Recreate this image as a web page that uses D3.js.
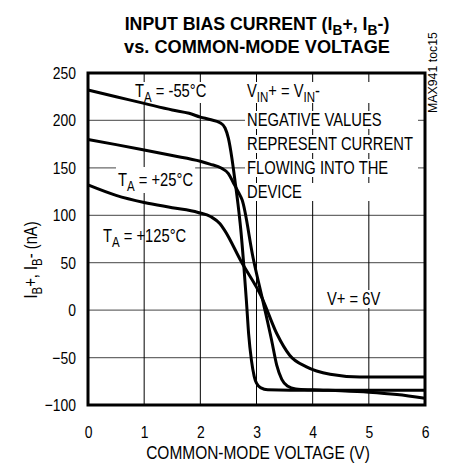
<!DOCTYPE html>
<html>
<head>
<meta charset="utf-8">
<script src="https://cdn.jsdelivr.net/npm/d3@7"></script>
<style>
  html, body { margin: 0; padding: 0; background: #fff; }
  svg { display: block; font-family: "Liberation Sans", Arial, sans-serif; }
</style>
</head>
<body>
<svg id="chart" width="451" height="470"></svg>
<script>
// ---------- data ----------
const xTicks = [0, 1, 2, 3, 4, 5, 6];
const yTicks = [-100, -50, 0, 50, 100, 150, 200, 250];

// T_A = -55°C  : [V, nA]
const seriesM55V = [0, 0.5, 1.0, 1.5, 1.8, 2.0, 2.17, 2.35, 2.44, 2.50, 2.56, 2.62, 2.67, 2.72, 2.77, 2.82, 2.86, 2.91, 2.96, 3.0, 3.08, 3.2, 3.6, 4.0, 5.0, 6.0];
const seriesM55I = [232, 225, 218, 211, 207.5, 203.5, 201, 197.6, 192, 181, 161, 135, 112, 85, 50, 10, -25, -53, -70, -77, -82, -84, -84.5, -84.5, -84.5, -84.5];

// T_A = +25°C
const seriesP25V = [0, 0.5, 1.0, 1.5, 2.0, 2.17, 2.38, 2.50, 2.59, 2.68, 2.745, 2.94, 3.12, 3.27, 3.36, 3.45, 3.55, 3.7, 4.0, 4.5, 5.0, 5.5, 6.0];
const seriesP25I = [180, 174.5, 168.8, 163, 157, 154, 149.5, 144, 134, 124, 116, 55, 8, -32, -58, -73, -80, -83, -84, -85, -86.5, -89, -93];

// T_A = +125°C
const seriesP125V = [0, 0.5, 1.0, 1.5, 1.96, 2.19, 2.35, 2.43, 2.73, 3.09, 3.36, 3.59, 3.89, 4.31, 4.84, 5.5, 6.0];
const seriesP125I = [132, 121, 113.5, 108, 103, 98.4, 91, 84.4, 51, 14, -24.6, -47.5, -59.8, -67.5, -70.4, -70.5, -70.5];

// ---------- layout ----------
const svg = d3.select("#chart");
const X0 = 88, X1 = 425, Y0 = 73, Y1 = 405;
const SX = 0.82; // horizontal squeeze to emulate a narrow face

const x = d3.scaleLinear().domain([0, 6]).range([X0, X1]);
const y = d3.scaleLinear().domain([-100, 250]).range([Y1, Y0]);

// grid
const grid = svg.append("g");
grid.selectAll("line.h").data(yTicks.filter(v => v > -100 && v < 250)).join("line")
  .attr("x1", X0).attr("x2", X1)
  .attr("y1", d => y(d)).attr("y2", d => y(d))
  .attr("stroke", "#6a6a6a").attr("stroke-width", 1.2);
grid.selectAll("line.v").data(xTicks.filter(v => v > 0 && v < 6)).join("line")
  .attr("y1", Y0).attr("y2", Y1)
  .attr("x1", d => x(d)).attr("x2", d => x(d))
  .attr("stroke", "#000").attr("stroke-width", 1);

// text helper: parts = [[str, isSub], ...]
function ntext(parent, px, py, anchor, parts, opt = {}) {
  const outer = parent.append("g");
  const inner = outer.append("g")
    .attr("transform", `translate(${px},${py}) ${opt.rotate ? "rotate(" + opt.rotate + ")" : ""} scale(${opt.sx ?? SX},1)`);
  const fs = opt.size || 18;
  const t = inner.append("text")
    .attr("text-anchor", anchor)
    .attr("font-size", fs)
    .attr("font-weight", opt.bold ? "bold" : "normal")
    .attr("fill", "#000");
  let shifted = false;
  parts.forEach(([s, sub]) => {
    const ts = t.append("tspan").text(s);
    if (sub && !shifted) { ts.attr("dy", fs * 0.28).attr("font-size", fs * 0.78); shifted = true; }
    else if (sub) { ts.attr("font-size", fs * 0.78); }
    else if (!sub && shifted) { ts.attr("dy", -fs * 0.28); shifted = false; }
  });
  return outer;
}
function box(outer, bx, by, bw, bh) {
  outer.insert("rect", ":first-child")
    .attr("x", bx).attr("y", by).attr("width", bw).attr("height", bh)
    .attr("fill", "#fff");
}
function autoBox(outer, padX = 1, top = 15, bottom = 3, py) {
  const b = outer.node().getBBox();
  box(outer, b.x - padX, py - top, b.width + 2 * padX, top + bottom);
}

const labels = svg.append("g");

// curve labels
const lm55 = ntext(labels, 135, 97, "start", [["T"], ["A", true], [" = -55°C"]]);
autoBox(lm55, 2, 15, 6, 97);
const lp25 = ntext(labels, 118, 186, "start", [["T"], ["A", true], [" = +25°C"]]);
autoBox(lp25, 2, 19, 7, 186);
ntext(labels, 103, 242, "start", [["T"], ["A", true], [" = +125°C"]]);

// annotation block
const noteLines = [
  [[["V"], ["IN", true], ["+ = V"], ["IN", true], ["-"]], 97, 6],
  [[["NEGATIVE VALUES"]], 126, 3],
  [[["REPRESENT CURRENT"]], 150, 3],
  [[["FLOWING INTO THE"]], 174, 3],
  [[["DEVICE"]], 198, 3]
];
noteLines.forEach(([parts, py, bot]) => {
  const g = ntext(labels, 247, py, "start", parts);
  box(g, 245, py - 15, 173, 15 + bot);
});

// V+ = 6V
const lv = ntext(labels, 327, 305, "start", [["V+ = 6V"]]);
autoBox(lv, 2, 15, 3, 305);

// curves
const line = d3.line().x(d => x(d[0])).y(d => y(d[1])).curve(d3.curveMonotoneX);
const series = [
  d3.zip(seriesM55V, seriesM55I),
  d3.zip(seriesP25V, seriesP25I),
  d3.zip(seriesP125V, seriesP125I)
];
svg.append("g").selectAll("path").data(series).join("path")
  .attr("d", line)
  .attr("fill", "none").attr("stroke", "#000").attr("stroke-width", 3)
  .attr("stroke-linejoin", "round");

// frame
svg.append("rect").attr("x", X0).attr("y", Y0).attr("width", X1 - X0).attr("height", Y1 - Y0)
  .attr("fill", "none").attr("stroke", "#000").attr("stroke-width", 3);

// axes (labels only)
const yAxis = svg.append("g").attr("transform", `translate(${X0},0)`)
  .call(d3.axisLeft(y).tickValues(yTicks).tickFormat(d3.format("d")).tickSize(0).tickPadding(12));
yAxis.select(".domain").remove();
yAxis.selectAll("text").attr("font-size", 17).attr("font-family", "Liberation Sans, Arial, sans-serif")
  .attr("fill", "#000").attr("x", -12 / SX).attr("transform", `scale(${SX},1)`);

const xAxis = svg.append("g").attr("transform", `translate(0,${Y1})`)
  .call(d3.axisBottom(x).tickValues(xTicks).tickFormat(d3.format("d")).tickSize(0).tickPadding(21));
xAxis.select(".domain").remove();
xAxis.selectAll("text").attr("font-size", 17).attr("font-family", "Liberation Sans, Arial, sans-serif")
  .attr("fill", "#000").attr("transform", `scale(${SX},1)`);

// axis titles
ntext(svg, 258, 459, "middle", [["COMMON-MODE VOLTAGE (V)"]], { sx: 0.86 });
ntext(svg, 37, 260, "middle", [["I"], ["B", true], ["+, I"], ["B", true], ["- (nA)"]], { rotate: -90 });

// title
ntext(svg, 257, 29.5, "middle", [["INPUT BIAS CURRENT (I"], ["B", true], ["+, I"], ["B", true], ["-)"]], { bold: true, size: 18, sx: 0.985 });
ntext(svg, 257, 53, "middle", [["vs. COMMON-MODE VOLTAGE"]], { bold: true, size: 18, sx: 1.01 });

// figure id
ntext(svg, 437, 113, "start", [["MAX941 toc15"]], { rotate: -90, size: 13, sx: 0.95 });
</script>
</body>
</html>
